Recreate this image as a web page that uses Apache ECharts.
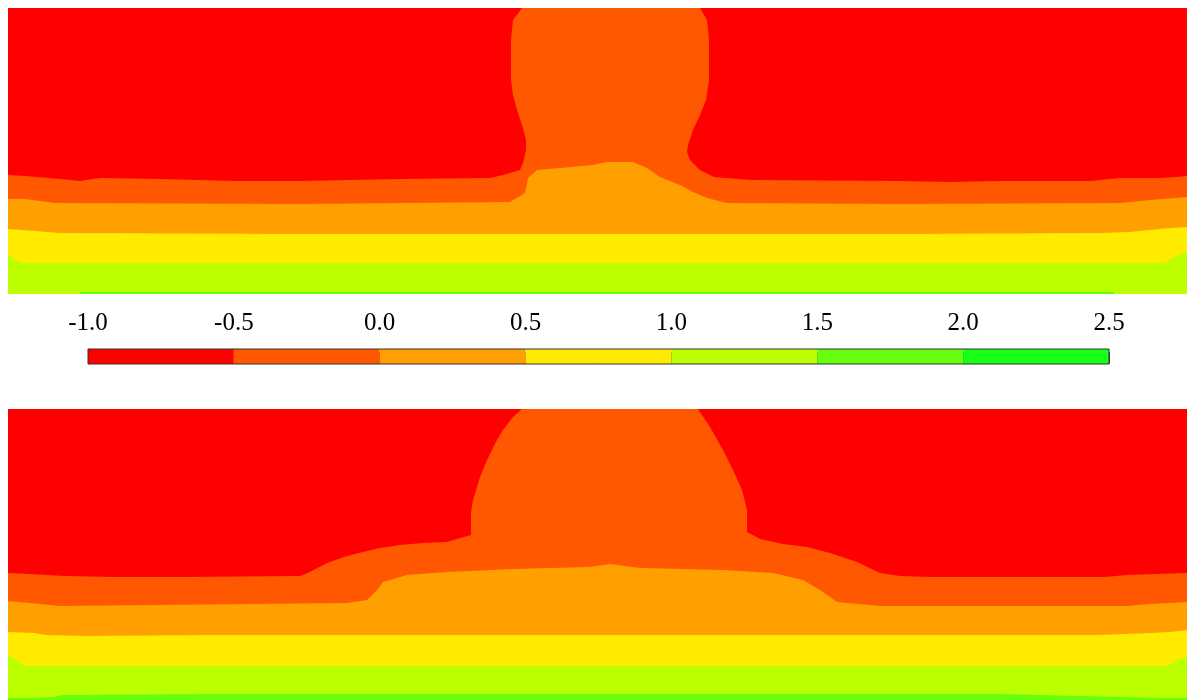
<!DOCTYPE html>
<html>
<head>
<meta charset="utf-8">
<script src="https://cdn.jsdelivr.net/npm/echarts@6/dist/echarts.min.js"></script>
<style>
html,body{margin:0;padding:0;background:#fff;}
#chart{width:1187px;height:700px;}
</style>
</head>
<body>
<div id="chart"></div>
<script>
// Colour scale (contour levels) and colours
const levels = [-1.0, -0.5, 0.0, 0.5, 1.0, 1.5, 2.0, 2.5];
const bandColors = ['#FF0000', '#FF5800', '#FFA000', '#FFEB00', '#BBFF00', '#66FF10', '#18FF18'];

// Section extents (distance x in m, depth in m)
const xMax = 117.9;
const topDepth = 28.6;
const botDepth = 29.1;

// ---------- Upper section: upper boundaries of each contour band ----------
const topLevelRed = [[0, 0], [117.9, 0]];
const topLevelM05 = [[0,16.7],[1.7,16.8],[5.2,17.1],[7.2,17.3],[9.2,17.0],[15.2,17.1],[22.9,17.3],[29.2,17.3],[39.2,17.1],[48.2,17.0],[49.5,16.7],[51.2,16.2],[51.5,15.5],[51.8,14.2],[51.8,13.2],[51.4,11.7],[50.9,10.2],[50.5,8.7],[50.3,7.2],[50.3,3.2],[50.5,1.2],[51.4,0],[69.2,0],[69.9,1.2],[70.1,3.2],[70.1,7.2],[69.8,9.2],[69.2,10.7],[68.5,12.2],[68.0,13.7],[67.9,14.4],[68.2,15.2],[69.2,16.2],[70.6,16.9],[74.2,17.2],[89.2,17.3],[94.2,17.4],[99.2,17.3],[108.2,17.3],[111.2,17.0],[115.2,17.0],[116.9,16.9],[117.9,16.8]];
const topLevel00 = [[0,19.1],[1.7,19.1],[4.7,19.5],[29.2,19.6],[50.2,19.4],[51.7,18.5],[52.0,17.0],[52.9,16.2],[55.2,16.0],[58.5,15.7],[59.9,15.4],[62.5,15.4],[63.9,16.0],[65.2,16.9],[67.2,17.7],[68.5,18.4],[69.9,19.0],[71.9,19.5],[89.2,19.6],[111.2,19.5],[114.2,19.2],[116.7,19.0],[117.9,18.9]];
const topLevel05 = [[0,22.1],[2.7,22.3],[5.2,22.5],[29.2,22.6],[89.2,22.6],[109.2,22.5],[112.2,22.4],[116.2,22.0],[117.9,21.9]];
const topLevel10 = [[0,24.6],[0.7,25.2],[1.4,25.5],[59.2,25.5],[115.6,25.5],[116.7,24.9],[117.9,24.4]];
const topLevel15 = [[7.2,28.4],[110.6,28.4]];

// ---------- Lower section ----------
const botLevelRed = [[0, 0], [117.9, 0]];
const botLevelM05 = [[0,16.4],[2.2,16.5],[5.7,16.7],[10.5,16.8],[17.5,16.8],[29.2,16.7],[30.2,16.3],[31.9,15.4],[33.9,14.7],[35.5,14.3],[37.2,13.9],[39.2,13.6],[41.5,13.4],[43.9,13.3],[45.2,12.9],[46.3,12.6],[46.3,10.4],[46.5,9.1],[46.9,7.8],[47.2,6.8],[47.9,5.1],[48.9,3.1],[49.5,2.1],[50.5,0.8],[51.4,0],[69.0,0],[70.2,1.8],[71.5,4.1],[72.5,6.1],[73.4,8.1],[73.9,10.1],[73.9,12.3],[75.2,13.0],[77.5,13.5],[79.9,13.8],[82.2,14.4],[84.9,15.3],[87.2,16.4],[89.2,16.7],[92.2,16.8],[109.7,16.8],[111.9,16.6],[117.9,16.4]];
const botLevel00 = [[0,19.2],[2.2,19.4],[4.2,19.6],[5.2,19.7],[33.9,19.4],[35.9,19.1],[36.9,18.1],[37.5,17.3],[39.9,16.6],[43.9,16.3],[50.5,16.0],[58.2,15.8],[60.2,15.5],[63.2,15.9],[71.5,16.1],[76.5,16.4],[79.5,17.1],[81.2,18.1],[82.9,19.3],[87.2,19.7],[111.9,19.7],[114.2,19.5],[116.2,19.4],[117.9,19.3]];
const botLevel05 = [[0,22.3],[2.7,22.4],[3.7,22.6],[7.7,22.7],[20.2,22.6],[94.7,22.6],[109.2,22.6],[114.2,22.4],[116.2,22.3],[117.9,22.1]];
const botLevel10 = [[0,24.6],[1.2,25.3],[1.7,25.7],[115.6,25.7],[116.2,25.6],[116.9,25.1],[117.9,24.8]];
const botLevel15 = [[0,28.9],[2.2,28.9],[4.7,28.8],[5.5,28.6],[20.2,28.5],[99.2,28.5],[115.2,28.9],[117.9,28.9]];

const topBands = [topLevelRed, topLevelM05, topLevel00, topLevel05, topLevel10, topLevel15];
const botBands = [botLevelRed, botLevelM05, botLevel00, botLevel05, botLevel10, botLevel15];

function panelSeries(gridIndex, bands, depth) {
  return {
    type: 'custom',
    xAxisIndex: gridIndex,
    yAxisIndex: gridIndex,
    silent: true,
    animation: false,
    clip: true,
    data: bands.map((b, i) => [b[0][0], b[0][1], i]),
    encode: { x: 0, y: 1 },
    renderItem: function (params, api) {
      const line = bands[params.dataIndex];
      const pts = line.map(p => api.coord(p));
      pts.push(api.coord([line[line.length - 1][0], depth]));
      pts.push(api.coord([line[0][0], depth]));
      return {
        type: 'polygon',
        shape: { points: pts },
        style: { fill: bandColors[params.dataIndex], stroke: null }
      };
    }
  };
}

const colorbarData = bandColors.map((c, i) => [levels[i], levels[i + 1], i]);

const chart = echarts.init(document.getElementById('chart'), null, { renderer: 'canvas' });
chart.setOption({
  backgroundColor: '#ffffff',
  animation: false,
  grid: [
    { left: 8, top: 8, width: 1179, height: 286 },
    { left: 8, top: 409, width: 1179, height: 291 },
    { left: 88, top: 349, width: 1021, height: 15, show: true, borderColor: '#333', borderWidth: 1, backgroundColor: 'transparent', z: 10 }
  ],
  xAxis: [
    { gridIndex: 0, type: 'value', min: 0, max: xMax, show: false },
    { gridIndex: 1, type: 'value', min: 0, max: xMax, show: false },
    {
      gridIndex: 2, type: 'value', min: -1, max: 2.5, interval: 0.5, position: 'top',
      axisLine: { show: false },
      axisTick: { show: true, length: 12, lineStyle: { color: '#444', width: 1 } },
      splitLine: { show: false },
      axisLabel: {
        margin: 13, color: '#000', fontFamily: 'Liberation Serif', fontSize: 25,
        formatter: v => v.toFixed(1)
      }
    }
  ],
  yAxis: [
    { gridIndex: 0, type: 'value', min: 0, max: topDepth, inverse: true, show: false },
    { gridIndex: 1, type: 'value', min: 0, max: botDepth, inverse: true, show: false },
    { gridIndex: 2, type: 'value', min: 0, max: 1, show: false }
  ],
  series: [
    panelSeries(0, topBands, topDepth),
    panelSeries(1, botBands, botDepth),
    {
      type: 'custom',
      xAxisIndex: 2,
      yAxisIndex: 2,
      silent: true,
      animation: false,
      data: colorbarData,
      encode: { x: [0, 1] },
      renderItem: function (params, api) {
        const a = api.coord([api.value(0), 1]);
        const b = api.coord([api.value(1), 0]);
        return {
          type: 'rect',
          shape: { x: a[0], y: a[1], width: b[0] - a[0], height: b[1] - a[1] },
          style: { fill: bandColors[api.value(2)] }
        };
      }
    }
  ]
});
</script>
</body>
</html>
